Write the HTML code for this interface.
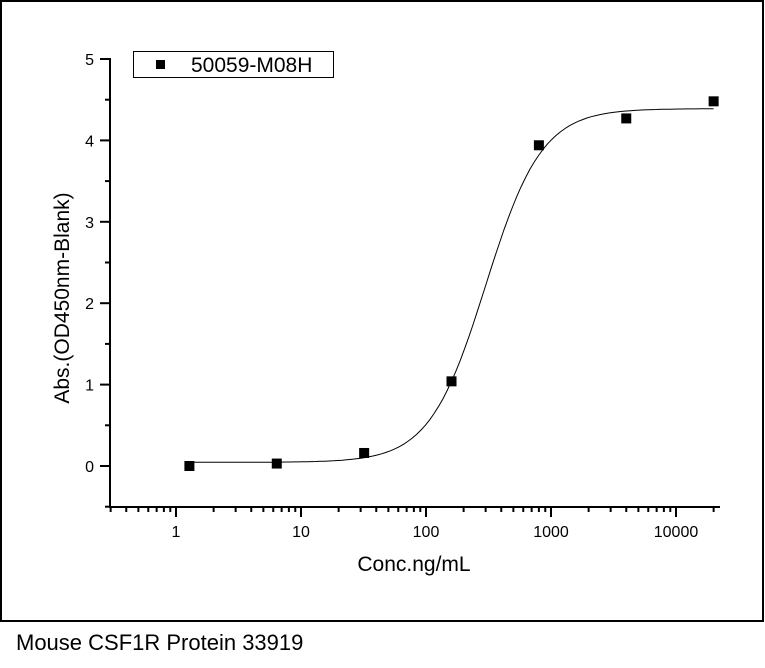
<!DOCTYPE html>
<html><head><meta charset="utf-8"><style>
html,body{margin:0;padding:0;background:#fff;width:765px;height:668px;overflow:hidden}
svg text{font-family:"Liberation Sans",Arial,sans-serif}
</style></head><body>
<svg width="765" height="668">
<rect x="1" y="1" width="762" height="620" fill="none" stroke="#000" stroke-width="2"/>
<g id="axes"></g>
<g id="curve"></g>
<g id="points"></g>
<g>
<rect x="133.5" y="51.5" width="200" height="26" fill="#fff" stroke="#000"/>
<rect x="156" y="60" width="9" height="9" fill="#000"/>
<text x="191" y="72" font-size="21">50059-M08H</text>
</g>
<text x="414" y="571" font-size="21" text-anchor="middle">Conc.ng/mL</text>
<text transform="translate(69,298) rotate(-90)" font-size="21" text-anchor="middle">Abs.(OD450nm-Blank)</text>
<text x="16" y="650" font-size="22" style='font-family:"Liberation Sans",sans-serif'>Mouse CSF1R Protein 33919</text>
</svg>
<script>
const concentrations=[1.28,6.4,32,160,800,4000,20000];
const absorbances=[0.0,0.03,0.16,1.04,3.94,4.27,4.48];
const yTicks=[0,1,2,3,4,5];
const xTicks=[1,10,100,1000,10000];
const fitBottom=[0.045],fitTop=[4.39],fitEC50=[300],fitHill=[1.93];
const NS="http://www.w3.org/2000/svg";
const X0=110,X1=720,Yb=507;
function xs(v){return 176+125*Math.log10(v);}
function ys(v){return 466-81.4*v;}
function mk(tag,attrs,parent){const e=document.createElementNS(NS,tag);for(const k in attrs)e.setAttribute(k,attrs[k]);parent.appendChild(e);return e;}
const axes=document.getElementById('axes');
let e=mk('line',{x1:X0,y1:ys(5)-1,x2:X0,y2:Yb+1,stroke:'#000','stroke-width':2},axes);


e=mk('line',{x1:X0-1,y1:Yb,x2:X1,y2:Yb,stroke:'#000','stroke-width':2},axes);


yTicks.forEach(t=>{
 mk('line',{x1:X0-10,y1:ys(t),x2:X0,y2:ys(t),stroke:'#000','stroke-width':2},axes);
 if(t<5)mk('line',{x1:X0-5,y1:ys(t+0.5),x2:X0,y2:ys(t+0.5),stroke:'#000','stroke-width':2},axes);
 const tx=mk('text',{x:X0-16,y:ys(t)+6,'font-size':16,'text-anchor':'end'},axes);tx.textContent=t;
 
 
});
mk('line',{x1:X0-5,y1:ys(-0.5),x2:X0,y2:ys(-0.5),stroke:'#000','stroke-width':2},axes);
for(let d=0.1;d<=10000;d*=10){for(let m=1;m<10;m++){const v=d*m;const px=xs(v);if(px<X0||px>X1)continue;
 const major=(m===1);mk('line',{x1:px,y1:Yb,x2:px,y2:Yb+(major?10:5),stroke:'#000','stroke-width':2},axes);}}
xTicks.forEach(t=>{const tx=mk('text',{x:xs(t),y:Yb+30,'font-size':16,'text-anchor':'middle'},axes);tx.textContent=t;
 
 });
const cg=document.getElementById('curve');
let d='';const lo=Math.log10(concentrations[0]),hi=Math.log10(concentrations[concentrations.length-1]);
for(let i=0;i<=120;i++){const lv=lo+(hi-lo)*i/120;const c=Math.pow(10,lv);
 const y=fitBottom[0]+(fitTop[0]-fitBottom[0])/(1+Math.pow(fitEC50[0]/c,fitHill[0]));
 d+=(i?'L':'M')+xs(c).toFixed(1)+' '+ys(y).toFixed(1);}
e=mk('path',{d:d,fill:'none',stroke:'#000','stroke-width':1},cg);


const pg=document.getElementById('points');
concentrations.forEach((c,i)=>{const p=mk('rect',{x:xs(c)-5,y:ys(absorbances[i])-5,width:10,height:10,fill:'#000'},pg);
 
 });
</script>
</body></html>
